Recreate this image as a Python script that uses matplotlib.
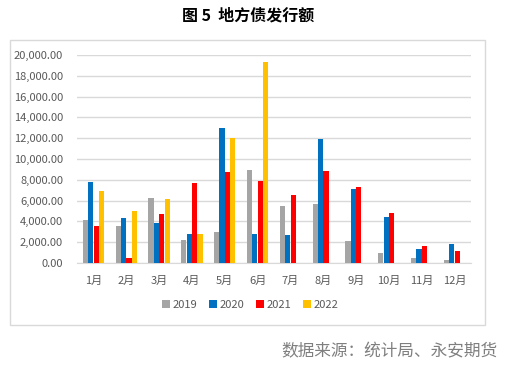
import numpy as np
import matplotlib.pyplot as plt
from matplotlib.patches import Rectangle

plt.rcParams['font.family'] = ['Noto Sans CJK SC', 'DejaVu Sans']

months = ["1月", "2月", "3月", "4月", "5月", "6月", "7月", "8月", "9月", "10月", "11月", "12月"]
years = ["2019", "2020", "2021", "2022"]
v2019 = [4100, 3600, 6230, 2180, 2990, 8960, 5490, 5680, 2150, 930, 450, 320]
v2020 = [7800, 4330, 3850, 2830, 12970, 2830, 2700, 11940, 7130, 4400, 1350, 1800]
v2021 = [3600, 510, 4720, 7670, 8730, 7930, 6520, 8800, 7320, 4780, 1600, 1120]
v2022 = [6930, 4980, 6160, 2830, 12040, 19330, np.nan, np.nan, np.nan, np.nan, np.nan, np.nan]
colors = ["#A5A5A5", "#0070C0", "#FF0000", "#FFC000"]

fig = plt.figure(figsize=(5.07, 3.75), dpi=100)
W, H = 507, 375

# chart frame
fig.patches.append(Rectangle((10 / W, 1 - 325 / H), 475 / W, 285 / H, transform=fig.transFigure,
                             fill=False, edgecolor="#D9D9D9", linewidth=1))

ax = fig.add_axes([77 / W, 1 - 263 / H, (471 - 77) / W, (263 - 55) / H])
x = np.arange(len(months))
step = 0.165
for i, (vals, c, lab) in enumerate(zip([v2019, v2020, v2021, v2022], colors, years)):
    ax.bar(x + (i - 1.5) * step, vals, width=0.155, color=c, label=lab, zorder=3)

ax.set_xlim(-0.5, len(months) - 0.5)
ax.set_ylim(0, 20000)
ax.set_yticks(np.arange(0, 20001, 2000))
ax.yaxis.set_major_formatter(lambda v, p: f"{v:,.2f}")
ax.set_xticks(x)
ax.set_xticklabels(months)
ax.grid(axis="y", color="#D9D9D9", linewidth=1, zorder=0)
for s in ["top", "right", "left"]:
    ax.spines[s].set_visible(False)
ax.spines["bottom"].set_color("#D9D9D9")
ax.tick_params(axis="both", length=0, colors="#595959", labelsize=8)
ax.tick_params(axis="y", pad=10)
ax.tick_params(axis="x", pad=9)

ax.legend(loc="upper center", bbox_to_anchor=(0.44, -0.13), ncol=4, frameon=False,
          fontsize=8, handlelength=0.7, handleheight=0.7, handletextpad=0.3,
          columnspacing=1.0, labelcolor="#595959")

fig.text(0.49, 1 - 15 / H, "图 5  地方债发行额", ha="center", va="center", fontsize=11.5, fontweight="bold")
fig.text(497 / W, 1 - 352 / H, "数据来源：统计局、永安期货", ha="right", va="center",
         fontsize=12, color="#7F7F7F")

fig.savefig("out.png", dpi=100)
